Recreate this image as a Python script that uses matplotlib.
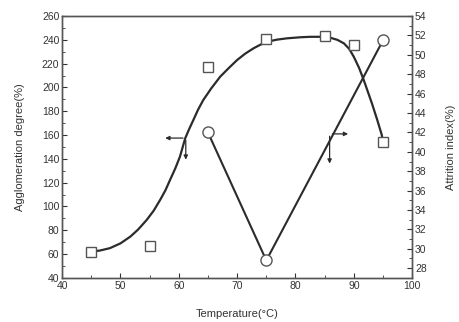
import matplotlib
matplotlib.use("Agg")
import matplotlib.pyplot as plt
from matplotlib.ticker import MultipleLocator

plt.rcParams["font.family"] = ["Liberation Sans", "DejaVu Sans"]

# 团聚度 (左轴) 实测点
temp_agg = [45, 55, 65, 75, 85, 90, 95]
agglomeration = [62, 67, 217.5, 240.5, 243, 236, 154]

# 团聚度拟合曲线 (从原图读取的曲线点)
fit_temp = [45, 46.5, 48.2, 50, 51.7, 53, 54.5, 55.7, 56.8, 57.7, 58.5, 59.4, 60.2,
            61.1, 61.8, 62.5, 63.3, 64.2, 65.6, 67.1, 68.6, 70.0, 71.4, 72.8, 74,
            75.1, 76.8, 78.5, 80.8, 82.5, 84.3, 86, 87.2, 88.3, 89.2, 90.0, 90.9,
            91.7, 92.4, 93.1, 94.0, 94.8, 95]
fit_agg = [62, 63, 65, 69, 74.7, 80.5, 88.7, 96.5, 105.5, 113.5, 122.3, 132, 141.9,
           157.3, 165.3, 172.7, 181.3, 189.5, 199.5, 209.1, 216.5, 223.1, 228.5,
           232.9, 236, 238.4, 240.2, 241.3, 242.2, 242.6, 242.6, 241.8, 240, 237.1,
           232.5, 225.8, 216.5, 206.3, 196.5, 186.7, 173, 160, 154]

# 磨损指数 (右轴)
temp_att = [65, 75, 95]
attrition = [42.0, 28.8, 51.5]

fig = plt.figure(figsize=(4.6, 3.22), dpi=100)
ax = fig.add_axes([0.135, 0.137, 0.761, 0.813])
ax2 = ax.twinx()

line_c = "#2b2b2b"
mark_c = "#555555"

ax.plot(fit_temp, fit_agg, color=line_c, lw=1.6, zorder=2)
ax.plot(temp_agg, agglomeration, ls="none", marker="s", ms=7, mfc="white",
        mec=mark_c, mew=1.0, zorder=3)

ax2.plot(temp_att, attrition, color=line_c, lw=1.5, marker="o", ms=8,
         mfc="white", mec=mark_c, mew=1.0, zorder=3)

ax.set_xlim(40, 100)
ax.set_ylim(40, 260)
ax2.set_ylim(27, 54)

ax.xaxis.set_major_locator(MultipleLocator(10))
ax.xaxis.set_minor_locator(MultipleLocator(5))
ax.yaxis.set_major_locator(MultipleLocator(20))
ax.yaxis.set_minor_locator(MultipleLocator(10))
ax2.yaxis.set_major_locator(MultipleLocator(2))
ax2.yaxis.set_minor_locator(MultipleLocator(1))

for a in (ax, ax2):
    a.tick_params(which="both", direction="in", labelsize=7.5, colors="#333333",
                  pad=2)
    a.tick_params(which="major", length=3.5, width=0.8)
    a.tick_params(which="minor", length=2, width=0.6)
    for s in a.spines.values():
        s.set_color("#555555")
        s.set_linewidth(1.0)
ax.tick_params(top=False, which="both")

ax.set_xlabel("Temperature(°C)", fontsize=8, color="#333333")
ax.set_ylabel("Agglomeration degree(%)", fontsize=8, color="#333333")
ax2.set_ylabel("Attrition index(%)", fontsize=8, color="#333333")
ax.xaxis.set_label_coords(0.5, -0.12)
ax.yaxis.set_label_coords(-0.105, 0.5)
ax2.yaxis.set_label_coords(1.097, 0.5)

# 指示坐标轴的箭头
arr = dict(arrowstyle="-|>", color=line_c, lw=0.9, mutation_scale=6)
ax.annotate("", xy=(57.2, 157.5), xytext=(61.2, 157.5), arrowprops=arr)
ax.annotate("", xy=(61.2, 137), xytext=(61.2, 158), arrowprops=arr)
ax2.annotate("", xy=(89.5, 41.85), xytext=(85.85, 41.85), arrowprops=arr)
ax2.annotate("", xy=(85.85, 38.5), xytext=(85.85, 41.9), arrowprops=arr)

fig.savefig("out.png", dpi=100)
